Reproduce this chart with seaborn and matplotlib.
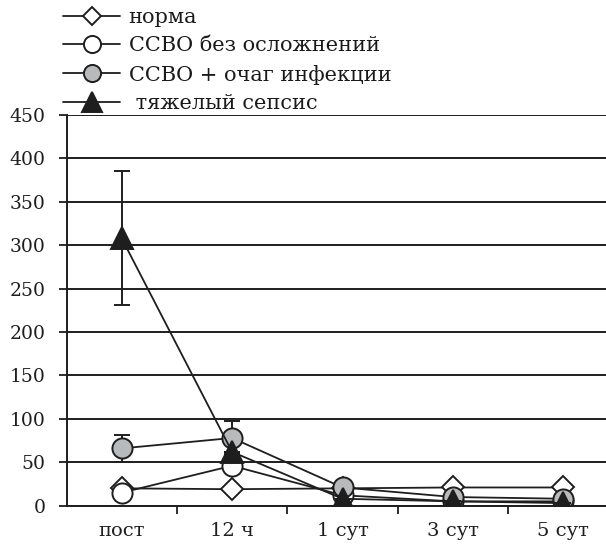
import matplotlib
matplotlib.use("Agg")
import matplotlib.pyplot as plt
import seaborn as sns
import pandas as pd
import numpy as np

# Time points and group values
time_points = ["пост", "12 ч", "1 сут", "3 сут", "5 сут"]
norm_vals = [20, 19, 20, 21, 21]
sirs_vals = [15, 46, 12, 5, 5]
focus_vals = [66, 78, 21, 10, 8]
sepsis_vals = [308, 62, 8, 5, 3]

# Half-widths of error bars
norm_err = [0, 0, 0, 0, 0]
sirs_err = [0, 0, 0, 0, 0]
focus_err = [16, 19, 0, 0, 0]
sepsis_err = [77, 0, 0, 0, 0]

labels = ["норма", "ССВО без осложнений", "ССВО + очаг инфекции", " тяжелый сепсис"]
y_ticks = [0, 50, 100, 150, 200, 250, 300, 350, 400, 450]

sns.set_theme(style="white")
plt.rcParams["font.family"] = ["DejaVu Serif"]
plt.rcParams["text.color"] = "#1a1a1a"

W, H = 606, 544
fig = plt.figure(figsize=(W / 100, H / 100), dpi=100)
ax = fig.add_axes([66.5 / W, (H - 505.7) / H, (618.5 - 66.5) / W, (505.7 - 115) / H])

x = np.arange(len(time_points))
ink = "#1e1e1e"
styles = [
    dict(marker="D", markersize=11, markerfacecolor="white"),
    dict(marker="o", markersize=14.5, markerfacecolor="white"),
    dict(marker="o", markersize=14.5, markerfacecolor="#b8b9bb"),
    dict(marker="^", markersize=16.5, markerfacecolor=ink),
]
series = [norm_vals, sirs_vals, focus_vals, sepsis_vals]
errors = [norm_err, sirs_err, focus_err, sepsis_err]

for i, (vals, err, st, lab) in enumerate(zip(series, errors, styles, labels)):
    df = pd.DataFrame({"t": x, "v": vals})
    if any(e > 0 for e in err):
        ax.errorbar(x, vals, yerr=err, fmt="none", ecolor=ink, elinewidth=1.4,
                    capsize=5.5, capthick=1.4, zorder=3 + i)
    sns.lineplot(data=df, x="t", y="v", ax=ax, color=ink, linewidth=1.3,
                 markeredgecolor=ink, markeredgewidth=1.4, label=lab,
                 zorder=3 + i, **st)

ax.set_xlim(-0.5, 4.5)
ax.set_ylim(0, 450)
ax.set_yticks(y_ticks)
ax.set_yticklabels([str(v) for v in y_ticks])
ax.set_xticks(x)
ax.set_xticklabels(time_points)
ax.set_xticks(x[:-1] + 0.5, minor=True)
ax.set_xlabel("")
ax.set_ylabel("")

ax.grid(axis="y", color=ink, linewidth=1.4)
ax.set_axisbelow(True)
for side in ["top", "right"]:
    ax.spines[side].set_visible(False)
for side in ["left", "bottom"]:
    ax.spines[side].set_color(ink)
    ax.spines[side].set_linewidth(1.4)

ax.tick_params(axis="y", which="major", length=6, width=1.3, color=ink,
               labelsize=13.5, pad=9, labelcolor=ink, left=True)
ax.tick_params(axis="x", which="major", length=0, labelsize=14, pad=12,
               labelcolor=ink, bottom=True)
ax.tick_params(axis="x", which="minor", length=6, width=1.3, color=ink,
               bottom=True)

handles, labs = ax.get_legend_handles_labels()
ax.get_legend().remove()
fig.legend(handles, labs, loc="upper left",
           bbox_to_anchor=(63 / W, 1 - 8 / H), frameon=False,
           fontsize=15, handlelength=2.75, handletextpad=0.4,
           labelspacing=0.45, borderpad=0, borderaxespad=0, markerscale=0.85)

fig.savefig("out.png", dpi=100)
